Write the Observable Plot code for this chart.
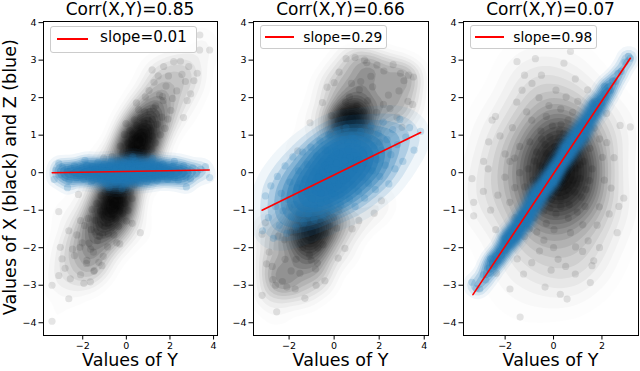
<!DOCTYPE html>
<html><head><meta charset="utf-8">
<script src="https://cdn.jsdelivr.net/npm/d3@7"></script>
<script src="https://cdn.jsdelivr.net/npm/@observablehq/plot@0.6"></script>
<style>
body{margin:0;background:#fff;}
#wrap{position:relative;width:640px;height:371px;font-family:"DejaVu Sans",sans-serif;overflow:hidden;color:#000}
.panel{position:absolute;top:0}
.txt{position:absolute;white-space:nowrap;text-align:center}
.legend{position:absolute;border:1px solid #cccccc;border-radius:3px;background:rgba(255,255,255,0.8);box-sizing:border-box}
.lline{position:absolute;height:2px;background:#ff0000}
</style></head><body><div id="wrap"></div>
<script>
// ---------- text ----------
const titles = ["Corr(X,Y)=0.85", "Corr(X,Y)=0.66", "Corr(X,Y)=0.07"];
const slopeLabels = ["slope=0.01", "slope=0.29", "slope=0.98"];
const xLabel = "Values of Y";
const yLabel = "Values of X (black) and Z (blue)";
const yTicks = [-4, -3, -2, -1, 0, 1, 2, 3, 4];
const xTicks1 = [-2, 0, 2, 4];
const xTicks2 = [-2, 0, 2, 4];
const xTicks3 = [-2, 0, 2];

// ---------- data: [Y, value] ----------
const p1Black = [
[3.36,3.27],[3.82,3.27],[3.37,3.67],[2.17,2.96],[2.86,2.83],[3.25,2.65],[2.71,2.43],[2.79,1.92],[1.18,2.74],[2.48,2.97],[1.93,2.58],[2.31,2.18],[2.04,1.66],[2.62,1.47],[2.55,2.62],[1.71,2.83],[2.95,2.1],[3.1,2.45],
[-3.41,-3.96],[-3.41,-3.0],[-3.1,-2.74],[-2.64,-3.36],[-1.95,-2.95],[-2.1,-2.72],[-2.57,-2.83],[-1.65,-2.91],[-2.95,-2.3],[-3.03,-1.99],[-2.64,-1.55],[-3.1,-1.04],[-2.1,-1.28],[-2.2,-0.58],[0.64,-1.6],[0.27,-1.35],[-0.3,-1.9],[-1.04,0.39],[-0.66,0.43],[-2.38,-2.21],[-2.02,-1.87],[-1.83,-2.42],[-2.47,-2.04],[-2.81,-2.55],[-1.49,-2.63],[-2.27,-1.66],[-1.12,-2.48],
[0.12,0.52],[0.23,0.71],[0.31,0.38],[0.42,0.93],[0.51,0.62],[0.63,1.08],[0.74,0.81],[0.82,1.33],[0.91,0.68],[1.03,1.21],[1.08,1.62],[1.21,0.97],[1.34,1.78],[1.41,1.29],[1.52,2.07],[1.63,1.48],[1.69,1.92],[1.82,2.31],[0.02,0.41],[-0.18,0.52],[-0.41,0.33],[0.16,1.12],[0.37,1.41],[0.56,1.68],[0.77,0.46],[0.96,0.49],[1.17,0.63],[1.33,0.79],[0.44,0.36],[0.66,1.47],[0.87,2.02],[1.04,2.19],[1.27,2.41],[0.26,0.88],[0.07,0.79],[-0.09,1.02],[1.56,1.01],[1.77,1.18],[1.91,1.43],[2.12,1.98],[0.58,0.53],[0.93,1.04],[0.39,0.61],[0.71,1.19],[1.01,0.87],[1.19,1.42],[0.29,1.03],[0.81,0.57],[0.48,1.26],[1.12,1.13],[0.21,0.34],[0.61,0.86],[0.46,1.86],[-0.02,1.31],[1.46,2.58],[1.66,2.03],[0.85,1.62],[0.69,0.67],[1.38,1.57],[0.52,0.96],[0.98,1.43],[0.33,0.72],[1.24,1.71],[0.11,0.62],[-0.28,0.71],[0.79,0.99],
[-0.13,-0.48],[-0.24,-0.73],[-0.32,-0.42],[-0.43,-0.88],[-0.52,-0.59],[-0.61,-1.12],[-0.73,-0.79],[-0.84,-1.36],[-0.92,-0.71],[-1.02,-1.18],[-1.09,-1.64],[-1.19,-1.02],[-1.32,-1.81],[-1.43,-1.27],[-1.51,-2.12],[-1.62,-1.52],[-1.71,-1.88],[-1.81,-2.34],[-0.03,-0.43],[0.19,-0.51],[0.38,-0.32],[-0.17,-1.09],[-0.36,-1.43],[-0.57,-1.66],[-0.76,-0.47],[-0.97,-0.52],[-1.16,-0.61],[-1.36,-0.82],[-0.46,-0.37],[-0.67,-1.46],[-0.86,-1.98],[-1.06,-2.23],[-1.26,-2.39],[-0.27,-0.91],[-0.06,-0.82],[0.08,-1.01],[-1.57,-0.98],[-1.76,-1.22],[-1.92,-1.41],[-2.13,-1.99],[-0.59,-0.51],[-0.91,-1.03],[-0.41,-0.63],[-0.69,-1.21],[-1.03,-0.89],[-1.22,-1.39],[-0.31,-1.02],[-0.79,-0.56],[-0.49,-1.24],[-1.11,-1.12],[-0.22,-0.36],[-0.62,-0.83],[-0.44,-1.87],[0.01,-1.29],[-1.47,-2.61],[-1.64,-2.04],[-0.83,-1.63],[-0.68,-0.69],[-1.39,-1.58],[-0.53,-0.97],[-0.99,-1.44],[-0.34,-0.74],[-1.23,-1.69],[-0.12,-0.63],[0.27,-0.69],[-0.81,-1.01],
[-1.02,0.05],[-0.48,0.12],[0.52,-0.09],[1.01,0.11],[-1.53,-0.21],[1.48,0.19],[0.03,-0.02],[-0.21,0.18],[0.24,-0.17],[-0.78,-0.22],[0.76,0.24],[-1.27,0.08],[1.31,-0.07]
];
const p1Blue = [
[-3.31,-0.18],[-3.22,0.07],[-3.05,-0.05],[-2.94,0.15],[-2.81,-0.12],[-2.72,0.04],[-2.63,-0.21],[-2.55,0.11],[-2.46,-0.03],[-2.38,0.19],[-2.29,-0.14],[-2.21,0.06],[-2.13,-0.08],[-2.04,0.13],[-1.97,-0.17],[-1.89,0.02],[-1.82,0.21],[-1.75,-0.11],[-1.68,0.08],[-1.61,-0.24],[-1.55,0.16],[-1.48,-0.04],[-1.42,0.11],[-1.36,-0.15],[-1.3,0.27],[-1.24,0.01],[-1.18,-0.19],[-1.12,0.14],[-1.06,-0.07],[-1.01,0.22],[-0.95,-0.28],[-0.9,0.05],[-0.84,-0.12],[-0.79,0.17],[-0.73,-0.02],[-0.68,0.3],[-0.62,-0.16],[-0.57,0.09],[-0.52,-0.25],[-0.46,0.12],[-0.41,-0.06],[-0.36,0.24],[-0.31,-0.2],[-0.25,0.03],[-0.2,0.16],[-0.15,-0.11],[-0.1,0.28],[-0.05,-0.3],[0.0,0.07],[0.05,-0.13],[0.1,0.19],[0.15,-0.04],[0.2,0.25],[0.25,-0.22],[0.31,0.1],[0.36,-0.09],[0.41,0.31],[0.46,-0.17],[0.52,0.04],[0.57,0.2],[0.62,-0.27],[0.68,0.13],[0.73,-0.05],[0.79,0.23],[0.84,-0.14],[0.9,0.06],[0.95,-0.24],[1.01,0.17],[1.06,-0.02],[1.12,0.26],[1.18,-0.16],[1.24,0.09],[1.3,-0.08],[1.36,0.2],[1.42,-0.21],[1.48,0.03],[1.55,0.14],[1.61,-0.1],[1.68,0.22],[1.75,-0.04],[1.82,0.12],[1.89,-0.18],[1.97,0.07],[2.04,-0.09],[2.13,0.17],[2.21,-0.13],[2.29,0.05],[2.38,-0.2],[2.46,0.1],[2.55,-0.02],[2.63,0.18],[2.72,-0.11],[2.81,0.06],[2.94,-0.16],[3.05,0.13],[3.22,-0.03],[3.4,0.09],[3.63,0.16],[3.82,-0.13],
[-2.7,-0.4],[2.75,-0.38],[-3.1,0.25],[1.2,0.38],[-0.8,-0.4],[0.3,0.42],[-1.9,0.33],[2.2,0.3],[-0.2,-0.43]
];
const p1Line = [[-3.4, 0.0], [3.8, 0.07]];

const p2Black = [
[0.93,3.07],[0.53,3.04],[1.45,2.93],[1.9,2.87],[3.1,2.45],[3.3,2.6],[3.52,2.55],[3.28,1.9],[3.48,1.82],[-1.07,1.33],[-2.55,-3.71],[-3.2,-3.27],[-3.0,-2.43],[-2.75,-2.5],[-2.72,-2.85],[-2.6,-3.0],[-2.1,-3.05],[-1.73,-3.1],[-1.3,-3.35],[-2.3,-2.9],[0.18,-2.28],[0.8,-1.5],[1.1,-1.28],[2.1,-0.75],[-3.2,-1.64],[-3.05,-1.33],[2.62,2.88],[2.21,2.71],[1.63,2.57],[2.88,2.18],[2.41,2.07],[0.22,2.68],[-0.31,2.28],[1.18,2.43],[-0.52,1.87],[2.79,1.48],[-1.91,-2.62],[-2.18,-2.31],[-1.52,-2.68],[-0.83,-2.57],[-0.41,-2.88],[-1.02,-2.33],[0.48,-2.02],[-2.88,-2.12],[3.02,1.21],[-1.62,0.58],[1.78,-1.08],[2.95,2.65],[1.35,3.0],[0.0,2.4],[-0.8,-3.0],
[0.62,1.31],[0.79,1.52],[0.41,1.63],[1.02,1.79],[0.19,1.38],[1.31,1.62],[0.68,2.02],[0.92,1.19],[0.28,1.08],[1.49,1.92],[1.12,2.21],[0.51,1.88],[-0.12,1.52],[1.71,2.29],[0.03,1.21],[1.21,1.33],[0.86,1.36],[0.57,1.42],[1.88,1.61],[2.19,1.82],[0.77,2.38],[-0.18,1.02],[1.62,1.12],[2.48,1.71],[0.7,1.4],[0.95,1.45],[0.45,1.25],[1.05,1.5],
[-0.61,-1.29],[-0.82,-1.53],[-0.39,-1.61],[-1.01,-1.81],[-0.21,-1.42],[-1.29,-1.58],[-0.72,-2.01],[-0.91,-1.18],[-0.31,-1.09],[-1.51,-1.91],[-1.09,-2.19],[-0.49,-1.92],[0.11,-1.48],[-1.69,-2.31],[-0.02,-1.19],[-1.19,-1.32],[-1.92,-1.59],[-2.21,-1.79],[-0.74,-2.41],[0.21,-0.98],[-1.58,-1.12],[-2.49,-1.69],[-1.35,-1.45],[-0.95,-1.65],[-1.1,-1.5],[-0.7,-1.7],[-1.4,-2.0],[-1.7,-1.6],
[0.02,0.03],[0.51,0.38],[-0.48,-0.42],[0.97,0.62],[-1.03,-0.58],[0.31,-0.27],[-0.29,0.33],[1.52,0.88],[-1.49,-0.91],[0.78,0.02],[-0.81,0.11],[0.18,0.79],[-0.22,-0.81],[1.19,1.02],[-1.21,-0.97],[2.02,0.81],[-1.98,-0.92]
];
const p2Blue = [
[-3.18,-1.55],[-3.05,-0.62],[-2.92,-1.2],[-2.81,-0.35],[-2.7,-1.75],[-2.6,-0.9],[-2.52,-0.1],[-2.43,-1.4],[-2.35,-0.55],[-2.27,-1.02],[-2.18,0.18],[-2.1,-1.62],[-2.03,-0.72],[-1.96,-0.25],[-1.9,-1.18],[-1.83,0.42],[-1.77,-0.85],[-1.7,-1.45],[-1.64,-0.4],[-1.58,0.05],[-1.52,-1.05],[-1.46,-0.62],[-1.4,0.55],[-1.35,-1.32],[-1.29,-0.18],[-1.24,-0.82],[-1.18,0.22],[-1.13,-1.1],[-1.08,-0.45],[-1.03,0.68],[-0.98,-0.7],[-0.93,0.02],[-0.88,-1.25],[-0.83,-0.3],[-0.78,0.45],[-0.73,-0.95],[-0.68,-0.12],[-0.63,0.85],[-0.58,-0.55],[-0.53,0.28],[-0.49,-1.15],[-0.44,-0.2],[-0.39,0.6],[-0.34,-0.75],[-0.29,0.1],[-0.24,1.0],[-0.2,-0.4],[-0.15,0.38],[-0.1,-0.98],[-0.05,-0.05],[0.0,0.72],[0.05,-0.6],[0.1,0.25],[0.15,1.12],[0.2,-0.3],[0.25,0.5],[0.29,-0.85],[0.34,0.05],[0.39,0.88],[0.44,-0.45],[0.49,0.32],[0.53,1.2],[0.58,-0.15],[0.63,0.62],[0.68,-0.7],[0.73,0.18],[0.78,0.98],[0.83,-0.32],[0.88,0.45],[0.93,-0.9],[0.98,0.1],[1.03,0.78],[1.08,-0.5],[1.13,0.35],[1.18,1.1],[1.24,-0.12],[1.29,0.6],[1.35,-0.68],[1.4,0.25],[1.46,0.92],[1.52,-0.28],[1.58,0.5],[1.64,1.25],[1.7,0.05],[1.77,0.72],[1.83,-0.45],[1.9,0.35],[1.96,1.05],[2.03,-0.1],[2.1,0.6],[2.18,1.35],[2.27,0.2],[2.35,0.88],[2.43,-0.3],[2.52,0.48],[2.6,1.15],[2.7,0.1],[2.81,0.75],[2.92,1.42],[3.05,0.3],[3.18,0.95],[3.35,1.2],[3.55,0.6],[3.84,1.1],
[-0.5,0.0],[0.5,0.1],[0.0,-0.2],[-1.0,-0.3],[1.0,0.3],[-0.2,0.3],[0.2,-0.1],[0.7,0.4],[-0.7,-0.4],[0.4,-0.2],[-0.4,0.2],[1.3,0.5],[-1.3,-0.5],[0.9,0.9],[-0.9,-0.9],[0.1,0.55],[-0.1,-0.55],[0.6,0.8],[-0.6,-0.8],[1.5,0.1],[-1.5,-0.3],[0.3,-0.6],[-0.3,0.6]
];
const p2Line = [[-3.2, -1.0], [3.84, 1.07]];

const p3Black = [
[-1.38,-3.85],[-3.37,-0.16],[-3.3,-0.79],[-3.3,-1.15],[-2.89,0.3],[-2.68,0.82],[-2.54,1.4],[-1.51,2.96],[-0.75,3.04],[0.43,2.92],[0.7,3.23],[2.75,1.26],[3.17,1.22],[2.9,-0.68],[2.63,-1.6],[1.52,-2.93],[0.28,-3.24],[0.56,-3.37],[-1.8,-3.1],[-2.36,-2.68],[-1.24,-2.7],[-0.35,-3.05],[1.66,-2.35],[1.9,-2.0],[1.43,-1.82],
[0.12,0.18],[-0.31,0.52],[0.43,-0.28],[-0.62,-0.19],[0.71,0.58],[-0.08,-0.71],[0.22,0.91],[-0.79,0.31],[0.88,-0.52],[-0.41,-1.02],[1.09,0.21],[-1.18,-0.38],[0.31,1.29],[-0.52,1.11],[0.61,-1.21],[-0.98,0.82],[1.32,0.88],[-1.29,-1.09],[0.02,-1.52],[1.48,-0.21],[-1.61,0.39],[0.79,1.61],[-0.69,-1.58],[1.68,1.19],[-1.81,-0.79],[0.52,2.02],[-0.19,1.79],[1.21,-1.39],[-1.11,1.62],[2.02,0.41],[-2.01,-0.12],[0.91,-1.98],[-0.58,-2.09],[1.89,-0.91],[-1.52,1.88],[2.19,1.58],[-2.21,0.98],[0.19,-2.31],[1.41,2.21],[-0.89,2.38],[2.38,-0.41],[-2.39,-1.52],[1.59,-2.48],
[0.15,-0.1],[0.35,0.25],[-0.2,0.05],[0.5,-0.6],[0.25,0.6],[-0.45,-0.35],[0.6,0.1],[0.0,0.4],[-0.1,-0.3],[0.45,0.8],[-0.35,0.75],[0.8,-0.2],[0.3,-0.9],[-0.7,0.55],[1.0,0.5],[-0.9,-0.6],[0.55,-0.05],[0.38,-0.42],[0.05,0.02],[0.68,-0.33],[-0.15,0.95],[0.92,0.12],[-0.55,0.18],[0.2,-0.55],[1.15,-0.65],[-0.25,-0.62],[0.75,0.95],[-0.05,1.25],[1.25,0.3],[-1.05,0.1],[0.42,1.05],[0.1,-1.1],[-0.75,-0.95],[1.5,0.65],[-1.4,0.7],[0.65,-0.85],[0.98,-1.05],[-0.3,-1.35],[0.4,0.45],[0.28,-0.18],[-0.02,-0.48],[0.58,0.35],
[-1.7,1.2],[-1.3,2.2],[-2.0,0.5],[-1.6,-0.4],[-2.3,-0.6],[-1.2,-1.7],[-1.9,-1.9],[-0.9,-2.4],[0.5,-2.5],[1.2,-2.1],[1.8,-1.4],[2.1,-0.2],[2.2,0.8],[1.7,1.9],[0.9,2.5],[0.1,2.2],[-0.5,2.6],[-1.2,2.6],[-2.4,1.5],[-2.7,0.1],[-2.6,-1.0],[-1.5,-2.3],[0.0,-2.0],[0.9,-2.7],[2.3,-1.1],[2.5,0.4],[1.0,1.9],[-0.3,1.5],[-1.4,0.0],[-0.8,-1.2],[1.3,-0.9],[1.6,0.1],[0.6,1.4],[-0.9,1.4],[-1.8,0.3],[-1.0,-1.5],[0.7,-1.6],[1.9,0.9],[-0.4,-1.8],[0.3,1.7],[-1.6,-1.2],[1.1,1.2],[2.7,-0.9],[-2.9,-0.5],[-0.1,-2.6],[-0.6,2.0],
[0.45,0.1],[0.62,-0.48],[0.18,0.42],[-0.35,0.15],[0.85,0.35],[0.3,-0.7],[-0.6,-0.75],[0.95,-0.3],[-0.15,-0.95],[0.05,0.7],[1.1,-0.15],[-0.5,0.9],[0.7,0.75],[-0.85,-0.2],[0.25,1.1],[1.35,-0.45]
];
const p3Blue = [
[-3.37,-2.92],[-3.2,-3.08],[-3.05,-3.1],[-2.9,-2.72],[-2.8,-2.86],[-2.7,-2.55],[-2.62,-2.68],[-2.52,-2.41],[-2.45,-2.5],[-2.38,-2.22],[-2.3,-2.35],[-2.22,-2.1],[-2.15,-2.2],[-2.08,-1.96],[-2.01,-2.07],[-1.94,-1.83],[-1.88,-1.95],[-1.82,-1.71],[-1.76,-1.8],[-1.7,-1.6],[-1.64,-1.72],[-1.58,-1.49],[-1.52,-1.56],[-1.46,-1.36],[-1.4,-1.48],[-1.35,-1.25],[-1.29,-1.35],[-1.23,-1.13],[-1.18,-1.24],[-1.12,-1.03],[-1.06,-1.14],[-1.01,-0.9],[-0.95,-1.02],[-0.9,-0.8],[-0.84,-0.92],[-0.79,-0.7],[-0.73,-0.8],[-0.68,-0.58],[-0.62,-0.7],[-0.57,-0.47],[-0.51,-0.58],[-0.46,-0.36],[-0.41,-0.48],[-0.35,-0.26],[-0.3,-0.38],[-0.24,-0.15],[-0.19,-0.27],[-0.13,-0.05],[-0.08,-0.16],[-0.02,0.05],[0.03,-0.06],[0.09,0.16],[0.14,0.05],[0.2,0.27],[0.25,0.15],[0.31,0.38],[0.36,0.26],[0.42,0.49],[0.47,0.36],[0.53,0.6],[0.58,0.47],[0.64,0.7],[0.69,0.58],[0.75,0.81],[0.8,0.69],[0.86,0.92],[0.91,0.8],[0.97,1.03],[1.02,0.9],[1.08,1.14],[1.13,1.01],[1.19,1.25],[1.25,1.13],[1.3,1.36],[1.36,1.24],[1.42,1.47],[1.48,1.36],[1.54,1.58],[1.6,1.48],[1.66,1.7],[1.72,1.6],[1.79,1.83],[1.86,1.72],[1.93,1.97],[2.0,1.86],[2.08,2.1],[2.16,2.02],[2.25,2.27],[2.34,2.2],[2.44,2.45],[2.55,2.43],[2.66,2.65],[2.8,2.7],[2.95,2.95],[3.1,3.1],[3.17,3.05],
[-2.0,-1.75],[-1.5,-1.7],[-0.8,-0.55],[0.5,0.7],[1.2,0.95],[2.1,2.3],[-2.6,-2.3],[1.6,1.85],[0.0,-0.25],[-1.1,-1.35]
];
const p3Line = [[-3.33, -3.25], [3.17, 3.05]];

// ---------- layout ----------
const yDomain = [-4.34, 4.03];
const panels = [
  {left: 0,   w: 220, ml: 43, mr: 3, xd: [-3.8, 4.18],  xt: xTicks1, black: p1Black, blue: p1Blue, line: p1Line, kbw: 10, kmax: 0.24, bbw: 5,  bmax: 0.7, cx: 130},
  {left: 220, w: 211, ml: 33, mr: 3, xd: [-3.58, 4.19], xt: xTicks2, black: p2Black, blue: p2Blue, line: p2Line, kbw: 10, kmax: 0.24, bbw: 13, bmax: 0.75, cx: 340.5},
  {left: 430, w: 210, ml: 33, mr: 2, xd: [-3.72, 3.51], xt: xTicks3, black: p3Black, blue: p3Blue, line: p3Line, kbw: 20, kmax: 0.2, bbw: 5,  bmax: 0.7, cx: 550.5}
];
const legends = [
  {box: [50, 26, 147, 27.3], line: [57, 39, 31], text: [100, 15.2, 43.3]},
  {box: [260, 25, 127.3, 24.3], line: [265, 37, 29], text: [303.3, 13.8, 42.3]},
  {box: [470, 25, 127.3, 24.3], line: [475, 37, 29], text: [513.3, 13.8, 42.3]}
];

const fmt = d => d < 0 ? "\u2212" + Math.abs(d) : String(d);
const wrap = document.getElementById("wrap");
const xy = {x: d => d[0], y: d => d[1]};

function base(o, axes) {
  return {
    width: o.w, height: 371,
    marginLeft: o.ml, marginRight: o.mr, marginTop: 21, marginBottom: 36,
    style: {fontFamily: "DejaVu Sans, sans-serif", fontSize: "9.5px", color: "#000", background: "transparent"},
    x: {domain: o.xd, ticks: o.xt, tickFormat: fmt, tickSize: 4.5, tickPadding: 2, label: null, axis: axes ? "bottom" : null},
    y: {domain: yDomain, ticks: yTicks, tickFormat: fmt, tickSize: 4.5, tickPadding: 2.5, label: null, axis: axes ? "left" : null}
  };
}
function place(svg, o) {
  svg.classList.add("panel");
  svg.style.left = o.left + "px";
  wrap.appendChild(svg);
}

panels.forEach((o, i) => {
  // layer 1: black cloud + axes
  place(Plot.plot({
    ...base(o, true),
    color: {type: "linear", range: ["rgba(0,0,0,0)", `rgba(0,0,0,${o.kmax})`]},
    marks: [
      Plot.density(o.black, {...xy, fill: "density", stroke: "none", bandwidth: o.kbw, thresholds: 22, clip: true}),
      Plot.dot(o.black, {...xy, r: 3.6, fill: "#000", fillOpacity: 0.1, stroke: "none", clip: true})
    ]
  }), o);
  // layer 2: blue cloud + fit line + frame
  place(Plot.plot({
    ...base(o, false),
    color: {type: "linear", range: ["rgba(31,119,180,0)", `rgba(31,119,180,${o.bmax})`]},
    marks: [
      Plot.density(o.blue, {...xy, fill: "density", stroke: "none", bandwidth: o.bbw, thresholds: 12, clip: true}),
      Plot.dot(o.blue, {...xy, r: 3.6, fill: "#1f77b4", fillOpacity: 0.2, stroke: "none", clip: true}),
      Plot.line(o.line, {...xy, stroke: "#ff0000", strokeWidth: 1.6}),
      Plot.frame({stroke: "#000", strokeWidth: 1})
    ]
  }), o);

  const t = document.createElement("div");
  t.className = "txt";
  t.textContent = titles[i];
  Object.assign(t.style, {left: (o.cx - 100) + "px", width: "200px", top: "0px", fontSize: "17px", lineHeight: "19.8px"});
  wrap.appendChild(t);

  const xl = document.createElement("div");
  xl.className = "txt";
  xl.textContent = xLabel;
  Object.assign(xl.style, {left: (o.cx - 100) + "px", width: "200px", top: "353.5px", fontSize: "17.5px", lineHeight: "13px"});
  wrap.appendChild(xl);

  const L = legends[i];
  const box = document.createElement("div");
  box.className = "legend";
  Object.assign(box.style, {left: L.box[0] + "px", top: L.box[1] + "px", width: L.box[2] + "px", height: L.box[3] + "px"});
  wrap.appendChild(box);
  const ln = document.createElement("div");
  ln.className = "lline";
  Object.assign(ln.style, {left: L.line[0] + "px", top: (L.line[1] - 1) + "px", width: L.line[2] + "px"});
  wrap.appendChild(ln);
  const lt = document.createElement("div");
  lt.className = "txt";
  lt.textContent = slopeLabels[i];
  const fs = L.text[1];
  Object.assign(lt.style, {left: L.text[0] + "px", top: (L.text[2] - 0.846 * fs) + "px", fontSize: fs + "px", lineHeight: fs + "px", textAlign: "left"});
  wrap.appendChild(lt);
});

const yl = document.createElement("div");
yl.className = "txt";
yl.textContent = yLabel;
Object.assign(yl.style, {left: (10.4 - 170) + "px", width: "340px", top: (177.5 - 10.2) + "px", fontSize: "17.5px", lineHeight: "20.4px", transform: "rotate(-90deg)"});
wrap.appendChild(yl);
</script>
</body></html>
